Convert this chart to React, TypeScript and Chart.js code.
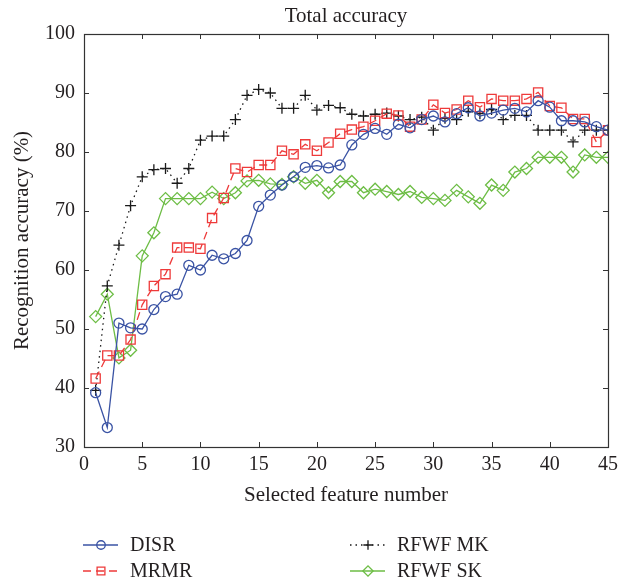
import React, { useEffect, useRef } from 'react';
import { Chart, registerables } from 'chart.js';

Chart.register(...registerables);

const featureNumbers = [1, 2, 3, 4, 5, 6, 7, 8, 9, 10, 11, 12, 13, 14, 15, 16, 17, 18, 19, 20, 21, 22, 23, 24, 25, 26, 27, 28, 29, 30, 31, 32, 33, 34, 35, 36, 37, 38, 39, 40, 41, 42, 43, 44, 45];

const disr = [39.2, 33.3, 51.0, 50.2, 50.0, 53.3, 55.5, 55.9, 60.8, 60.0, 62.5, 61.9, 62.8, 65.0, 70.8, 72.7, 74.4, 75.8, 77.4, 77.7, 77.3, 77.8, 81.2, 83.0, 84.0, 83.0, 84.7, 84.1, 85.5, 86.1, 85.1, 86.5, 87.5, 86.1, 86.6, 87.1, 87.4, 86.8, 88.7, 87.6, 85.3, 85.3, 85.1, 84.3, 83.7];
const mrmr = [41.6, 45.5, 45.5, 48.2, 54.1, 57.3, 59.3, 63.8, 63.8, 63.6, 68.8, 72.2, 77.2, 76.6, 77.8, 77.8, 80.2, 79.6, 81.3, 80.2, 81.6, 83.1, 83.8, 84.3, 85.3, 86.5, 86.2, 84.3, 85.5, 88.0, 86.6, 87.2, 88.7, 87.6, 89.0, 88.7, 88.7, 89.0, 90.1, 87.8, 87.5, 85.6, 85.6, 81.7, 83.7];
const rfwfMK = [39.6, 57.3, 64.2, 70.9, 75.8, 77.0, 77.2, 74.7, 77.2, 82.0, 82.7, 82.7, 85.5, 89.6, 90.6, 90.0, 87.4, 87.4, 89.6, 87.1, 87.9, 87.5, 86.4, 86.1, 86.4, 86.6, 86.1, 85.5, 85.9, 83.7, 85.7, 85.5, 86.9, 86.5, 87.2, 85.5, 86.2, 86.2, 83.7, 83.7, 83.7, 81.7, 83.7, 83.7, 83.7];
const rfwfSK = [52.1, 55.9, 45.1, 46.4, 62.4, 66.3, 72.1, 72.1, 72.1, 72.1, 73.2, 72.1, 73.1, 75.1, 75.2, 74.6, 74.5, 75.8, 74.7, 75.2, 73.1, 75.0, 75.0, 73.1, 73.7, 73.3, 72.8, 73.3, 72.3, 72.1, 71.8, 73.5, 72.4, 71.3, 74.4, 73.5, 76.6, 77.2, 79.1, 79.1, 79.1, 76.6, 79.5, 79.1, 79.1];

const xTicks = [0, 5, 10, 15, 20, 25, 30, 35, 40, 45];
const yTicks = [30, 40, 50, 60, 70, 80, 90, 100];

const seriesNames = ['DISR', 'MRMR', 'RFWF MK', 'RFWF SK'];
const chartTitle = 'Total accuracy';

const FONT = "'Liberation Serif', 'Times New Roman', serif";
const TEXT = '#231f20';

const BLUE = '#3a53a4';
const RED = '#ee3a3a';
const BLACK = '#1a1a1a';
const GREEN = '#6dbd45';

function toPoints(values: number[]) {
  return featureNumbers.map((x, i) => ({ x, y: values[i] }));
}

function drawMarker(ctx: CanvasRenderingContext2D, style: string, x: number, y: number, r: number) {
  ctx.beginPath();
  if (style === 'circle') {
    ctx.arc(x, y, r, 0, Math.PI * 2);
  } else if (style === 'rect') {
    const s = Math.SQRT1_2 * r;
    ctx.rect(x - s, y - s, 2 * s, 2 * s);
  } else if (style === 'cross') {
    ctx.moveTo(x - r, y);
    ctx.lineTo(x + r, y);
    ctx.moveTo(x, y - r);
    ctx.lineTo(x, y + r);
  } else if (style === 'rectRot') {
    ctx.moveTo(x - r, y);
    ctx.lineTo(x, y - r);
    ctx.lineTo(x + r, y);
    ctx.lineTo(x, y + r);
    ctx.closePath();
  }
  ctx.stroke();
}

const framePlugin = {
  id: 'frameAndTicks',
  afterDatasetsDraw(chart: any) {
    const { ctx, chartArea, scales } = chart;
    const { left, right, top, bottom } = chartArea;
    ctx.save();
    ctx.strokeStyle = '#333333';
    ctx.lineWidth = 1;
    ctx.beginPath();
    const tl = 5;
    xTicks.forEach((v) => {
      const px = Math.round(scales.x.getPixelForValue(v)) + 0.5;
      ctx.moveTo(px, bottom);
      ctx.lineTo(px, bottom - tl);
      ctx.moveTo(px, top);
      ctx.lineTo(px, top + tl);
    });
    yTicks.forEach((v) => {
      const py = Math.round(scales.y.getPixelForValue(v)) + 0.5;
      ctx.moveTo(left, py);
      ctx.lineTo(left + tl, py);
      ctx.moveTo(right, py);
      ctx.lineTo(right - tl, py);
    });
    ctx.stroke();
    ctx.lineWidth = 1.2;
    ctx.strokeRect(Math.round(left) + 0.5, Math.round(top) + 0.5, Math.round(right - left), Math.round(bottom - top));
    // title centred over the plot area
    ctx.fillStyle = TEXT;
    ctx.font = `21px ${FONT}`;
    ctx.textAlign = 'center';
    ctx.textBaseline = 'middle';
    ctx.fillText(chartTitle, (left + right) / 2, 16);
    ctx.restore();
  },
};

const legendPlugin = {
  id: 'customLegend',
  afterDraw(chart: any) {
    const { ctx } = chart;
    const slots = [
      { x: 83, y: 545 },
      { x: 83, y: 571 },
      { x: 350, y: 545 },
      { x: 350, y: 571 },
    ];
    ctx.save();
    chart.data.datasets.forEach((ds: any, i: number) => {
      const { x, y } = slots[i];
      ctx.strokeStyle = ds.borderColor;
      ctx.lineWidth = ds.borderWidth;
      ctx.setLineDash(ds.borderDash || []);
      ctx.beginPath();
      ctx.moveTo(x, y);
      ctx.lineTo(x + 35, y);
      ctx.stroke();
      ctx.setLineDash([]);
      ctx.lineWidth = ds.pointBorderWidth;
      drawMarker(ctx, ds.pointStyle, x + 18, y, ds.pointRadius * 0.85);
      ctx.fillStyle = TEXT;
      ctx.font = `20px ${FONT}`;
      ctx.textBaseline = 'middle';
      ctx.textAlign = 'left';
      ctx.fillText(ds.label, x + 47, y + 1);
    });
    ctx.restore();
  },
};

export default function App() {
  const canvasRef = useRef<HTMLCanvasElement | null>(null);

  useEffect(() => {
    document.body.style.margin = '0';
    const canvas = canvasRef.current;
    if (!canvas) return;
    const chart = new Chart(canvas, {
      type: 'line',
      data: {
        datasets: [
          {
            label: seriesNames[0],
            data: toPoints(disr),
            borderColor: BLUE,
            borderWidth: 1.3,
            pointStyle: 'circle',
            pointRadius: 5,
            pointBorderWidth: 1.3,
            pointBorderColor: BLUE,
            pointBackgroundColor: 'rgba(0,0,0,0)',
          },
          {
            label: seriesNames[1],
            data: toPoints(mrmr),
            borderColor: RED,
            borderWidth: 1.3,
            borderDash: [8, 5],
            pointStyle: 'rect',
            pointRadius: 6.5,
            pointBorderWidth: 1.3,
            pointBorderColor: RED,
            pointBackgroundColor: 'rgba(0,0,0,0)',
          },
          {
            label: seriesNames[2],
            data: toPoints(rfwfMK),
            borderColor: BLACK,
            borderWidth: 1.3,
            borderDash: [1.5, 4],
            pointStyle: 'cross',
            pointRadius: 5.5,
            pointBorderWidth: 1.3,
            pointBorderColor: BLACK,
            pointBackgroundColor: 'rgba(0,0,0,0)',
          },
          {
            label: seriesNames[3],
            data: toPoints(rfwfSK),
            borderColor: GREEN,
            borderWidth: 1.3,
            pointStyle: 'rectRot',
            pointRadius: 6,
            pointBorderWidth: 1.3,
            pointBorderColor: GREEN,
            pointBackgroundColor: 'rgba(0,0,0,0)',
          },
        ],
      },
      options: {
        responsive: false,
        animation: false,
        layout: { padding: { left: 0, right: 24, top: 34, bottom: 72 } },
        plugins: {
          legend: { display: false },
          tooltip: { enabled: false },
          title: { display: false },
        },
        scales: {
          x: {
            type: 'linear',
            min: 0,
            max: 45,
            afterBuildTicks: (s: any) => {
              s.ticks = xTicks.map((v) => ({ value: v }));
            },
            afterFit: (s: any) => {
              s.height = 63;
            },
            grid: { display: false, drawTicks: false },
            border: { display: false },
            ticks: {
              color: TEXT,
              padding: 6,
              maxRotation: 0,
              autoSkip: false,
              font: { family: FONT, size: 20 },
            },
            title: {
              display: true,
              text: 'Selected feature number',
              color: TEXT,
              font: { family: FONT, size: 21 },
              padding: { top: 0, bottom: 2.4 },
            },
          },
          y: {
            type: 'linear',
            min: 30,
            max: 100,
            afterBuildTicks: (s: any) => {
              s.ticks = yTicks.map((v) => ({ value: v }));
            },
            afterFit: (s: any) => {
              s.width = 84;
            },
            grid: { display: false, drawTicks: false },
            border: { display: false },
            ticks: {
              color: TEXT,
              padding: 9,
              autoSkip: false,
              font: { family: FONT, size: 20 },
            },
            title: {
              display: true,
              text: 'Recognition accuracy (%)',
              color: TEXT,
              font: { family: FONT, size: 21 },
              padding: { top: 9.4, bottom: 0 },
            },
          },
        },
      },
      plugins: [framePlugin, legendPlugin],
    } as any);
    return () => chart.destroy();
  }, []);

  return (
    <div style={{ width: 632, height: 582 }}>
      <canvas ref={canvasRef} width={632} height={582} style={{ display: 'block', width: 632, height: 582 }} />
    </div>
  );
}
